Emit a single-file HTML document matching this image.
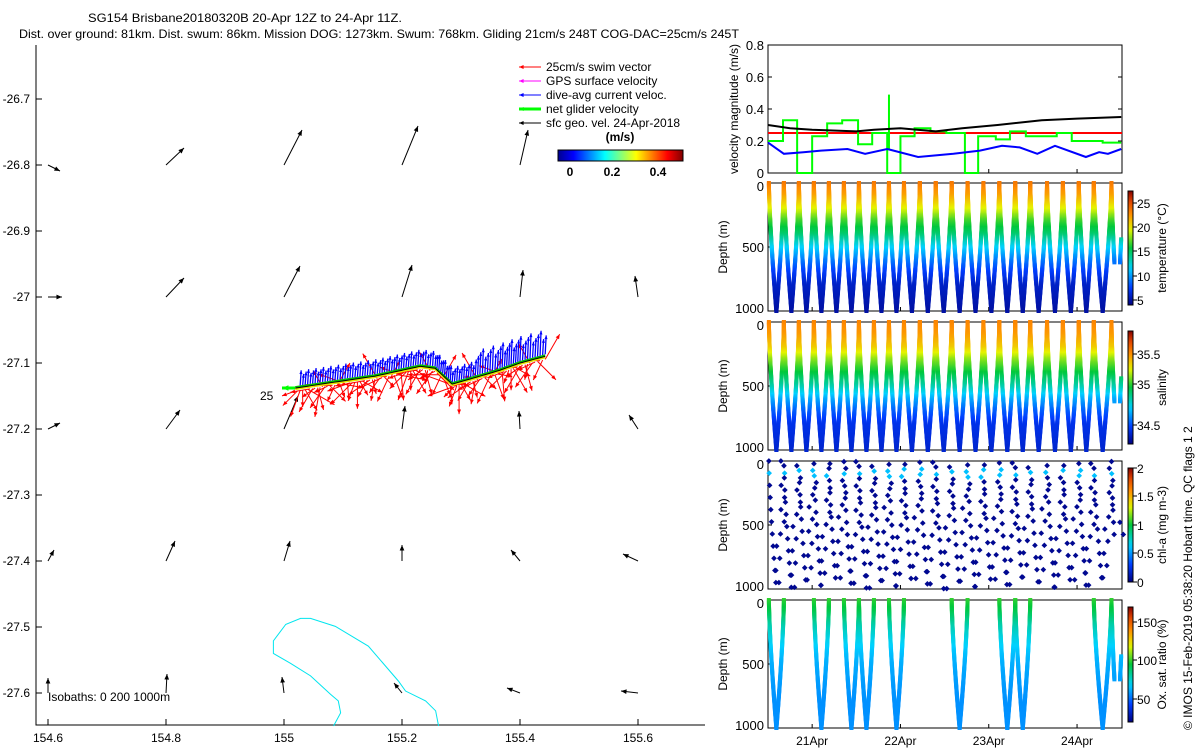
<!DOCTYPE html>
<html><head><meta charset="utf-8">
<style>
body{margin:0;background:#fff;}
svg{display:block;font-family:"Liberation Sans",sans-serif;}
</style></head>
<body>
<svg id="s" width="1200" height="750" viewBox="0 0 1200 750">
<rect width="1200" height="750" fill="#fff"/>
<text x="88" y="22" font-size="12" textLength="314" lengthAdjust="spacingAndGlyphs">SG154 Brisbane20180320B 20-Apr 12Z to 24-Apr 11Z.</text>
<text x="19" y="38" font-size="12" textLength="720" lengthAdjust="spacingAndGlyphs">Dist. over ground: 81km. Dist. swum: 86km. Mission DOG: 1273km. Swum: 768km. Gliding 21cm/s 248T COG-DAC=25cm/s 245T</text>
<g id="map"></g>
<g id="right"></g>
<text transform="translate(1192,730) rotate(-90)" font-size="12">© IMOS 15-Feb-2019 05:38:20 Hobart time. QC flags 1  2</text>
</svg>
<script>
// ---------- DATA ----------
const mapLonTicks=[154.6,154.8,155,155.2,155.4,155.6];
const mapLatTicks=[-26.7,-26.8,-26.9,-27,-27.1,-27.2,-27.3,-27.4,-27.5,-27.6];
const gridLats=[-26.8,-27.0,-27.2,-27.4,-27.6];
const gridLons=[154.6,154.8,155.0,155.2,155.4,155.6];
const gridU=[[0.12,0.18,0.18,0.16,0.08,0],[0.14,0.18,0.16,0.10,0.03,-0.03],[0.12,0.14,0.14,0.03,-0.01,-0.09],[0.06,0.09,0.06,0,-0.09,-0.15],[0,0.01,-0.02,-0.08,-0.13,-0.17]];
const gridV=[[-0.06,0.17,0.35,0.39,0.35,0],[0,0.19,0.31,0.32,0.27,0.21],[0.06,0.19,0.33,0.23,0.18,0.14],[0.11,0.20,0.20,0.16,0.11,0.07],[0.15,0.19,0.16,0.10,0.05,0.02]];
const trackLon=[155.019,155.078,155.154,155.231,155.256,155.285,155.332,155.366,155.4,155.434,155.447];
const trackLat=[-27.138,-27.130,-27.120,-27.105,-27.108,-27.132,-27.120,-27.111,-27.100,-27.092,-27.089];
const swimAngles=[200,225,250,270,300,330,190,240,215,285,260,120,235,205,315,180,245,60,290,350,160,275];
const isoLon=[155.084,155.096,155.092,155.079,155.045,155.011,154.982,154.982,155.003,155.028,155.045,155.087,155.143,155.194,155.206,155.240,155.257,155.262];
const isoLat=[-27.65,-27.630,-27.612,-27.602,-27.574,-27.555,-27.540,-27.521,-27.496,-27.487,-27.487,-27.499,-27.529,-27.582,-27.597,-27.612,-27.627,-27.65];
const dayTicks=[21,22,23,24];
const dayLabels=["21Apr","22Apr","23Apr","24Apr"];
const blackT=[20.5,20.75,21.0,21.5,21.7,22.0,22.4,22.7,23.1,23.6,24.0,24.5];
const blackV=[0.30,0.28,0.27,0.26,0.27,0.28,0.26,0.28,0.30,0.33,0.34,0.35];
const blueT=[20.5,20.68,20.9,21.1,21.4,21.6,21.85,22.2,22.6,22.9,23.15,23.35,23.55,23.75,24.1,24.25,24.35,24.5];
const blueV=[0.19,0.12,0.13,0.14,0.15,0.12,0.15,0.10,0.12,0.14,0.17,0.16,0.12,0.17,0.10,0.13,0.12,0.15];
const greenT=[20.5,20.67,20.83,21.0,21.17,21.34,21.52,21.68,21.85,22.0,22.16,22.34,22.52,22.73,22.88,23.08,23.24,23.42,23.77,23.94,24.11,24.29];
const greenV=[0.20,0.33,0,0.23,0.31,0.33,0.18,0.25,0,0.23,0.28,0.26,0.25,0,0.23,0.21,0.26,0.23,0.25,0.20,0.20,0.19];
const diveTops=[20.51,20.68,20.85,21.02,21.19,21.36,21.53,21.70,21.87,22.04,22.22,22.40,22.58,22.76,22.94,23.12,23.30,23.47,23.66,23.84,24.02,24.19,24.39,24.52];
const oxDives=[0,3,5,6,8,12,15,16,21,22];
const tempDepth=[0,100,200,300,400,500,600,700,800,1000];
const tempVal=[24,22.5,20,17,15,12,9.5,7.5,6,5];
const salVal=[35.6,35.55,35.45,35.25,35.1,34.95,34.75,34.6,34.5,34.45];
const oxVal=[100,92,80,72,66,62,60,58,57,57];
// ---------- DRAW ----------
const NS="http://www.w3.org/2000/svg";
function el(tag,attrs,parent,text){const e=document.createElementNS(NS,tag);for(const k in attrs)e.setAttribute(k,attrs[k]);if(text!==undefined)e.textContent=text;parent.appendChild(e);return e;}
const map=document.getElementById('map'),R=document.getElementById('right');
const lonX=l=>48+(l-154.6)*590, latY=l=>693-(l+27.6)*660;
const cmS=[0,0.15,0.32,0.5,0.66,0.8,0.92,1];
const cmC=[[0,0,128],[0,60,255],[0,210,255],[0,200,60],[230,245,0],[255,140,0],[220,60,0],[128,0,0]];
function jet(t){t=Math.max(0,Math.min(1,t));for(let i=0;i<cmS.length-1;i++)if(t<=cmS[i+1]){const f=(t-cmS[i])/(cmS[i+1]-cmS[i]);const c=cmC[i].map((v,k)=>Math.round(v+(cmC[i+1][k]-v)*f));return `rgb(${c})`;}return 'rgb(128,0,0)';}
function arrow(x1,y1,x2,y2,col,g,w,hs){
  let l=el('line',{x1,y1,x2,y2,stroke:col,'stroke-width':w||1},g);
  const a=Math.atan2(y2-y1,x2-x1),h=hs||5;
  el('polygon',{points:`${x2},${y2} ${x2-h*Math.cos(a-0.4)},${y2-h*Math.sin(a-0.4)} ${x2-h*Math.cos(a+0.4)},${y2-h*Math.sin(a+0.4)}`,fill:col},g);
  return l;}
let ax=el('path',{d:'M36,45 V725 H705',fill:'none',stroke:'#000'},map);

mapLonTicks.forEach(v=>{const x=lonX(v);el('line',{x1:x,y1:725,x2:x,y2:719,stroke:'#000'},map);
 const t=el('text',{x,y:742,'font-size':12,'text-anchor':'middle'},map,String(v));
 });
mapLatTicks.forEach(v=>{const y=latY(v);el('line',{x1:36,y1:y,x2:42,y2:y,stroke:'#000'},map);
 const t=el('text',{x:30,y:y+4,'font-size':12,'text-anchor':'end'},map,v.toFixed(1).replace('-27.0','-27'));
 });
let ip=isoLon.map((l,i)=>`${lonX(l)},${latY(isoLat[i])}`).join(' ');
let iso=el('polyline',{points:ip,fill:'none',stroke:'#00e5ee','stroke-width':1},map);

gridLats.forEach((la,i)=>gridLons.forEach((lo,j)=>{const u=gridU[i][j],v=gridV[i][j];if(u===0&&v===0)return;
 const x=lonX(lo),y=latY(la);const a=arrow(x,y,x+u*100,y-v*100,'#000',map,1,6);
 }));
const pts=[];
for(let i=0;i<trackLon.length-1;i++){const x1=lonX(trackLon[i]),y1=latY(trackLat[i]),x2=lonX(trackLon[i+1]),y2=latY(trackLat[i+1]);
 const n=Math.max(2,Math.round(Math.hypot(x2-x1,y2-y1)/2.5));for(let k=0;k<n;k++)pts.push([x1+(x2-x1)*k/n,y1+(y2-y1)*k/n]);}
pts.forEach((p,i)=>{const ang=swimAngles[i%swimAngles.length]*Math.PI/180,L=14+(i*7%18);
 const a=arrow(p[0],p[1]+3,p[0]+L*Math.cos(ang),p[1]+3-L*Math.sin(ang),'#ff0000',map,1,5);
 });
el('polyline',{points:pts.map(p=>`${p[0]},${p[1]+1}`).join(' '),fill:'none',stroke:'#e6e600','stroke-width':2},map);
el('polyline',{points:pts.map(p=>`${p[0]},${p[1]-1}`).join(' '),fill:'none',stroke:'#00c000','stroke-width':2},map);
pts.forEach((p,i)=>{if(p[0]<300)return;const h=(p[0]>475?16+(i%4)*3:11+(i%3)*2);
 const a=arrow(p[0],p[1]-2,p[0]+1,p[1]-2-h,'#0000ff',map,1.3,4);
 });
let tl=el('polyline',{points:pts.map(p=>`${p[0]},${p[1]}`).join(' '),fill:'none',stroke:'#000','stroke-width':1},map);

arrow(295,388,282,388,'#00ff00',map,3,7);
el('text',{x:260,y:400,'font-size':12},map,'25');
el('text',{x:48,y:701,'font-size':12},map,'Isobaths: 0   200  1000m');
const leg=[['#ff0000','25cm/s swim vector'],['#ff00ff','GPS surface velocity'],['#0000ff','dive-avg current veloc.'],['#00ff00','net glider velocity'],['#000','sfc geo. vel. 24-Apr-2018']];
leg.forEach((l,i)=>{const y=67+i*14;const g=el('g',{},map);
 arrow(541,y,519,y,l[0],g,i==3?3:1,5);el('text',{x:546,y:y+4,'font-size':12},g,l[1]);});
const defs=el('defs',{},document.getElementById('s'));
const lg=el('linearGradient',{id:'jet',x1:0,x2:1,y1:0,y2:0},defs);
const lgv=el('linearGradient',{id:'jetv',x1:0,x2:0,y1:1,y2:0},defs);
for(let k=0;k<=20;k++){el('stop',{offset:k/20,'stop-color':jet(k/20)},lgv);}
[[0,'#00008f'],[0.125,'#0000ff'],[0.375,'#00ffff'],[0.625,'#ffff00'],[0.875,'#ff0000'],[1,'#800000']].forEach(s=>el('stop',{offset:s[0],'stop-color':s[1]},lg));
let cb=el('rect',{x:558,y:150,width:125,height:11,fill:'url(#jet)',stroke:'#000'},map);

el('text',{x:620,y:141,'font-size':12,'font-weight':'bold','text-anchor':'middle'},map,'(m/s)');
[[570,'0'],[612,'0.2'],[658,'0.4']].forEach(a=>el('text',{x:a[0],y:176,'font-size':12,'font-weight':'bold','text-anchor':'middle'},map,a[1]));
// ---------- right panels ----------
const X0=768,X1=1122;const dX=d=>X0+(d-20.5)*88.3;
const panels=[[45,173],[183,311],[322,450],[461,589],[600,728]];
panels.forEach((p,i)=>{const r=el('rect',{x:X0,y:p[0],width:X1-X0,height:p[1]-p[0],fill:'none',stroke:'#000'},R);
 
 dayTicks.forEach(d=>{el('line',{x1:dX(d),y1:p[1],x2:dX(d),y2:p[1]-4,stroke:'#000'},R);});});
const vY=v=>173-v*160;
[0,0.2,0.4,0.6,0.8].forEach(v=>{el('line',{x1:X0,y1:vY(v),x2:X0+4,y2:vY(v),stroke:'#000'},R);el('line',{x1:X1,y1:vY(v),x2:X1-4,y2:vY(v),stroke:'#000'},R);
 el('text',{x:764,y:vY(v)+5,'font-size':13,'text-anchor':'end'},R,v===0?'0':v.toFixed(1));});
el('text',{transform:'translate(738,109) rotate(-90)','font-size':12,'text-anchor':'middle'},R,'velocity magnitude (m/s)');
let red=el('line',{x1:X0,y1:vY(0.25),x2:X1,y2:vY(0.25),stroke:'#ff0000','stroke-width':2},R);

let gp=[];greenT.forEach((t,i)=>{const tn=i<greenT.length-1?greenT[i+1]:24.5;gp.push(`${dX(t)},${vY(greenV[i])}`,`${dX(tn)},${vY(greenV[i])}`);});
let gl=el('polyline',{points:gp.join(' '),fill:'none',stroke:'#00ff00','stroke-width':2},R);

el('line',{x1:dX(21.87),y1:vY(0.49),x2:dX(21.87),y2:vY(0.15),stroke:'#00ff00','stroke-width':2},R);
let bl=el('polyline',{points:blackT.map((t,i)=>`${dX(t)},${vY(blackV[i])}`).join(' '),fill:'none',stroke:'#000','stroke-width':2},R);

let bu=el('polyline',{points:blueT.map((t,i)=>`${dX(t)},${vY(blueV[i])}`).join(' '),fill:'none',stroke:'#0000ff','stroke-width':2},R);

dayTicks.forEach((d,i)=>{const t=el('text',{x:dX(d),y:745,'font-size':12,'text-anchor':'middle'},R,dayLabels[i]);
 });
function interp(xs,ys,x){for(let i=0;i<xs.length-1;i++)if(x<=xs[i+1])return ys[i]+(ys[i+1]-ys[i])*(x-xs[i])/(xs[i+1]-xs[i]);return ys[ys.length-1];}
function depthPanel(pi,colorFn,dives,step,shape,name,cbar,cbLabel,ticks){
 const [t0,t1]=panels[pi];const dY=d=>t0+d*(t1-t0)/1000;
 [[0,'0'],[500,'500'],[1000,'1000']].forEach(a=>{el('line',{x1:X0,y1:dY(a[0]),x2:X0+4,y2:dY(a[0]),stroke:'#000'},R);
  el('text',{x:764,y:dY(a[0])+(a[0]===0?8:a[0]===1000?2:5),'font-size':13,'text-anchor':'end'},R,a[1]);});
 el('text',{transform:`translate(727,${(t0+t1)/2}) rotate(-90)`,'font-size':12,'text-anchor':'middle'},R,'Depth (m)');
 const g=el('g',{},R);
 dives.forEach(i=>{if(i>=diveTops.length-1)return;const a=diveTops[i],b=diveTops[i+1],m=(a+b)/2;const maxD=(i===diveTops.length-2)?620:1000;
  const off=shape==='d'?((i*37)%90):0;
  for(let d=off;d<=maxD;d+=step){[[a,m],[b,m]].forEach((s,k)=>{const f=Math.pow(d/1000,1.4);const t=s[0]+(s[1]-s[0])*f;if(t>24.5)return;
   const x=dX(t)+(shape==='d'&&k?((i*13+d)%7-3):0),y=dY(d),c=colorFn(d);
   if(shape==='d')el('rect',{x:x-2,y:y-2,width:4,height:4,fill:c,transform:`rotate(45 ${x} ${y})`},g);
   else el('rect',{x:x-2,y:y-2,width:4,height:4,fill:c},g);});}});
 const [cy0,cy1,cbName]=cbar;el('rect',{x:1128,y:cy0,width:5,height:cy1-cy0,fill:'url(#jetv)',stroke:'#000'},R);
 ticks.forEach(a=>{el('line',{x1:1133,y1:a[0],x2:1137,y2:a[0],stroke:'#000'},R);el('text',{x:1137,y:a[0]+5,'font-size':12},R,a[1]);});
 el('text',{transform:`translate(1166,${(cy0+cy1)/2}) rotate(-90)`,'font-size':12,'text-anchor':'middle'},R,cbLabel);}
const all=diveTops.map((_,i)=>i);
depthPanel(1,d=>jet((interp(tempDepth,tempVal,d)-4)/24),all,10,'s','temperature',[191,305,'temperature-colorbar'],'temperature (°C)',[[203,'25'],[227,'20'],[251,'15'],[276,'10'],[300,'5']]);
depthPanel(2,d=>jet((interp(tempDepth,salVal,d)-34.3)/1.6),all,10,'s','salinity',[331,444,'salinity-colorbar'],'salinity',[[354,'35.5'],[384,'35'],[425,'34.5']]);
depthPanel(3,d=>jet(d>60&&d<130?0.3:0.02),all,95,'d','chlorophyll',[468,582,'chl-colorbar'],'chl-a (mg m-3)',[[468,'2'],[496,'1.5'],[525,'1'],[553,'0.5'],[582,'0']]);
depthPanel(4,d=>jet((interp(tempDepth,oxVal,d)-20)/150),oxDives,10,'s','oxygen',[607,722,'oxygen-colorbar'],'Ox. sat. ratio (%)',[[622,'150'],[660,'100'],[699,'50']]);
</script>
</body></html>
